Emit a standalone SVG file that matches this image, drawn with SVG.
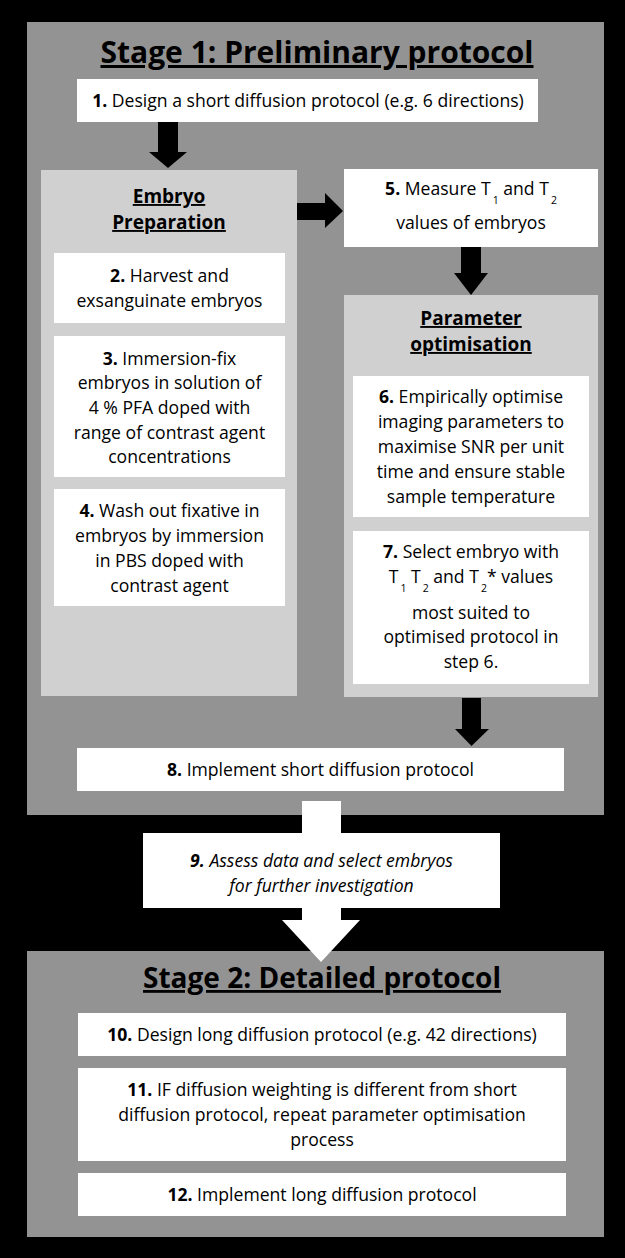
<svg xmlns="http://www.w3.org/2000/svg" width="625" height="1258" viewBox="0 0 625 1258">
<defs>
<style>
.stage{fill:#939393}
.sub{fill:#d0d0d0}
.box{fill:#ffffff}
text{font-family:"Open Sans","Liberation Sans",sans-serif;fill:#000;text-anchor:middle}
.t{font-size:17.6px}
.b{font-weight:bold}
.h{font-size:19px;font-weight:bold;text-decoration:underline}
.s1{font-size:30px;font-weight:bold;text-decoration:underline}
.s2{font-size:28px;font-weight:bold;text-decoration:underline}
.i{font-style:italic}
.sb{font-size:10.5px}
.arrow{fill:#000}
.warrow{fill:#fff}
</style>
</defs>
<rect x="0" y="0" width="625" height="1258" fill="#000"/>

<g id="stage1">
<rect class="stage" x="27" y="22" width="577" height="793"/>
<text class="s1" x="317" y="63">Stage 1: Preliminary protocol</text>
</g>

<g id="embryo-preparation">
<rect class="sub" x="41" y="170" width="256" height="526"/>
<text class="h" x="169" y="203">Embryo</text>
<text class="h" x="169" y="229">Preparation</text>
</g>

<g id="parameter-optimisation">
<rect class="sub" x="344" y="295" width="254" height="402"/>
<text class="h" x="471" y="325">Parameter</text>
<text class="h" x="471" y="351">optimisation</text>
</g>

<g id="stage2">
<rect class="stage" x="27" y="951" width="577" height="286"/>
<text class="s2" x="322" y="988">Stage 2: Detailed protocol</text>
</g>

<g id="connectors">
<polygon class="arrow" points="158,122 178,122 178,152 187,152 168,168 149,152 158,152"/>
<polygon class="arrow" points="297,203 325,203 325,193 343,211 325,228 325,220 297,220"/>
<polygon class="arrow" points="461,247 481,247 481,273 488,273 471,295 454,273 461,273"/>
<polygon class="arrow" points="462,698 481,698 481,729 489,729 471.5,746 455,729 462,729"/>
<polygon class="warrow" points="302,801 341,801 341,920 360,920 321,962 282,920 302,920"/>
</g>

<g id="step1">
<rect class="box" x="77" y="79" width="461" height="43"/>
<text class="t" x="308" y="107"><tspan class="b">1.</tspan> Design a short diffusion protocol (e.g. 6 directions)</text>
</g>

<g id="step2">
<rect class="box" x="54" y="253" width="231" height="70"/>
<text class="t" x="169.5" y="282"><tspan class="b">2.</tspan> Harvest and</text>
<text class="t" x="169.5" y="307">exsanguinate embryos</text>
</g>

<g id="step3">
<rect class="box" x="54" y="336" width="231" height="141"/>
<text class="t" x="169.5" y="365"><tspan class="b">3.</tspan> Immersion-fix</text>
<text class="t" x="169.5" y="389">embryos in solution of</text>
<text class="t" x="169.5" y="414">4 % PFA doped with</text>
<text class="t" x="169.5" y="439">range of contrast agent</text>
<text class="t" x="169.5" y="463">concentrations</text>
</g>

<g id="step4">
<rect class="box" x="54" y="489" width="231" height="117"/>
<text class="t" x="169.5" y="517"><tspan class="b">4.</tspan> Wash out fixative in</text>
<text class="t" x="169.5" y="542">embryos by immersion</text>
<text class="t" x="169.5" y="567">in PBS doped with</text>
<text class="t" x="169.5" y="592">contrast agent</text>
</g>

<g id="step5">
<rect class="box" x="344" y="169" width="254" height="78"/>
<text class="t" x="471" y="195"><tspan class="b">5.</tspan> Measure T<tspan class="sb" dx="2" dy="9">1</tspan><tspan dy="-9"> and T</tspan><tspan class="sb" dx="2" dy="9">2</tspan></text>
<text class="t" x="471" y="229">values of embryos</text>
</g>

<g id="step6">
<rect class="box" x="353" y="376" width="236" height="141"/>
<text class="t" x="471" y="403"><tspan class="b">6.</tspan> Empirically optimise</text>
<text class="t" x="471" y="428">imaging parameters to</text>
<text class="t" x="471" y="453">maximise SNR per unit</text>
<text class="t" x="471" y="478">time and ensure stable</text>
<text class="t" x="471" y="503">sample temperature</text>
</g>

<g id="step7">
<rect class="box" x="353" y="531" width="236" height="153"/>
<text class="t" x="471" y="558"><tspan class="b">7.</tspan> Select embryo with</text>
<text class="t" x="471" y="583">T<tspan class="sb" dx="2" dy="9">1</tspan><tspan dy="-9"> T</tspan><tspan class="sb" dx="2" dy="9">2</tspan><tspan dy="-9"> and T</tspan><tspan class="sb" dx="2" dy="9">2</tspan><tspan dy="-9">* values</tspan></text>
<text class="t" x="471" y="619">most suited to</text>
<text class="t" x="471" y="643">optimised protocol in</text>
<text class="t" x="471" y="668">step 6.</text>
</g>

<g id="step8">
<rect class="box" x="77" y="748" width="487" height="43"/>
<text class="t" x="320.5" y="776"><tspan class="b">8.</tspan> Implement short diffusion protocol</text>
</g>

<g id="step9">
<rect class="box" x="143" y="833" width="357" height="75"/>
<text class="t i" x="321.5" y="867"><tspan class="b">9.</tspan> Assess data and select embryos</text>
<text class="t i" x="321.5" y="892">for further investigation</text>
</g>

<g id="step10">
<rect class="box" x="78" y="1013" width="488" height="43"/>
<text class="t" x="322" y="1041"><tspan class="b">10.</tspan> Design long diffusion protocol (e.g. 42 directions)</text>
</g>

<g id="step11">
<rect class="box" x="78" y="1068" width="488" height="93"/>
<text class="t" x="322" y="1096"><tspan class="b">11.</tspan> IF diffusion weighting is different from short</text>
<text class="t" x="322" y="1121">diffusion protocol, repeat parameter optimisation</text>
<text class="t" x="322" y="1146">process</text>
</g>

<g id="step12">
<rect class="box" x="78" y="1173" width="488" height="43"/>
<text class="t" x="322" y="1201"><tspan class="b">12.</tspan> Implement long diffusion protocol</text>
</g>
</svg>
